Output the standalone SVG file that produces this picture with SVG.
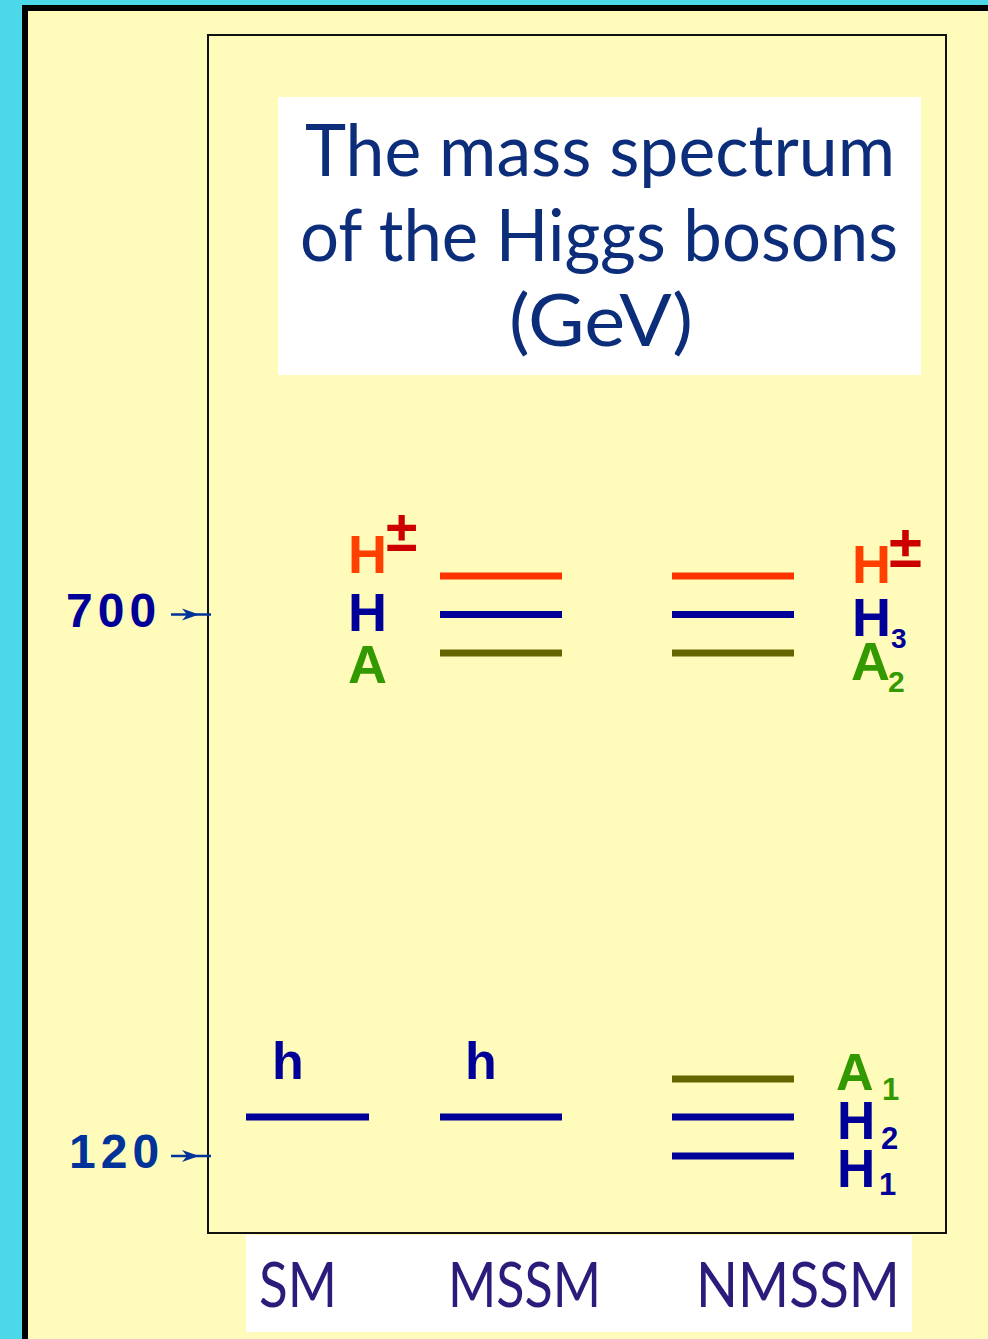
<svg xmlns="http://www.w3.org/2000/svg" width="988" height="1339" viewBox="0 0 988 1339">
<style>
.lvl{stroke-width:7;fill:none}
.or{stroke:#ff3300}
.bl{stroke:#000099}
.ol{stroke:#666600}
.lab{font-family:"Liberation Sans",Arial,sans-serif;font-weight:bold}
.title{font-family:Lato,"Liberation Sans",sans-serif;font-size:71px;fill:#0c2d7a}
.model{font-family:Lato,"Liberation Sans",sans-serif;font-size:61px;fill:#2b1b7b}
.axis{font-family:"Liberation Sans",Arial,sans-serif;font-weight:bold;font-size:48px;letter-spacing:5px}
.arr{stroke:#003399;stroke-width:2.5;fill:none;marker-mid:url(#ah)}
</style>
<defs>
<marker id="ah" markerUnits="userSpaceOnUse" viewBox="0 -7 18 14" markerWidth="18" markerHeight="14" refX="17" refY="0" orient="auto">
<path d="M0,-6 L17,0 L0,6 L5,0 z" fill="#003399"/>
</marker>
</defs>
<rect x="0" y="0" width="988" height="1339" fill="#4cd8e8"/>
<rect x="25" y="8" width="1000" height="1400" fill="#fffbbb" stroke="#000" stroke-width="6"/>
<rect id="frame" x="208" y="35" width="738" height="1198" fill="none" stroke="#111" stroke-width="2"/>

<g id="title">
<rect x="278" y="97" width="643" height="278" fill="#fff"/>
<text class="title" x="305" y="176" textLength="590" lengthAdjust="spacingAndGlyphs">The mass spectrum</text>
<text class="title" x="300" y="261" textLength="598" lengthAdjust="spacingAndGlyphs">of the Higgs bosons</text>
<text class="title" x="509" y="346" textLength="184" lengthAdjust="spacingAndGlyphs">(GeV)</text>
</g>

<g id="axis700">
<text class="axis" x="66" y="627" fill="#000099">700</text>
</g>
<g id="axis120">
<text class="axis" x="69" y="1168" fill="#003399">120</text>
</g>

<g id="connectors">
<path class="arr" d="M171,614.5 L199,614.5 L211,614.5"/>
<path class="arr" d="M171,1156 L199,1156 L211,1156"/>
</g>

<g id="mssm-heavy">
<line class="lvl or" x1="440" y1="576" x2="562" y2="576"/>
<line class="lvl bl" x1="440" y1="614.5" x2="562" y2="614.5"/>
<line class="lvl ol" x1="440" y1="653" x2="562" y2="653"/>
<text class="lab" x="348" y="573" font-size="54" fill="#ff4000">H<tspan x="386" y="551" font-size="57" fill="#cc0000">±</tspan></text>
<text class="lab" x="348" y="631" font-size="54" fill="#000099">H</text>
<text class="lab" x="348" y="683" font-size="54" fill="#339900">A</text>
</g>

<g id="nmssm-heavy">
<line class="lvl or" x1="672" y1="576" x2="794" y2="576"/>
<line class="lvl bl" x1="672" y1="614.5" x2="794" y2="614.5"/>
<line class="lvl ol" x1="672" y1="653" x2="794" y2="653"/>
<text class="lab" x="852" y="583" font-size="54" fill="#ff4000">H<tspan x="889" y="567" font-size="60" fill="#cc0000">±</tspan></text>
<text class="lab" x="852" y="636" font-size="54" fill="#000099">H<tspan x="891" y="648" font-size="28">3</tspan></text>
<text class="lab" x="851" y="680" font-size="54" fill="#339900">A<tspan x="888" y="692" font-size="30">2</tspan></text>
</g>

<g id="sm-light">
<line class="lvl bl" x1="246" y1="1117" x2="369" y2="1117"/>
<text class="lab" x="272" y="1079" font-size="52" fill="#000099">h</text>
</g>

<g id="mssm-light">
<line class="lvl bl" x1="440" y1="1117" x2="562" y2="1117"/>
<text class="lab" x="465" y="1079" font-size="52" fill="#000099">h</text>
</g>

<g id="nmssm-light">
<line class="lvl ol" x1="672" y1="1079" x2="794" y2="1079"/>
<line class="lvl bl" x1="672" y1="1117" x2="794" y2="1117"/>
<line class="lvl bl" x1="672" y1="1156" x2="794" y2="1156"/>
<text class="lab" x="836" y="1090" font-size="52" fill="#339900">A<tspan x="882" y="1100" font-size="31">1</tspan></text>
<text class="lab" x="837" y="1139" font-size="53" fill="#000099">H<tspan x="881" y="1149" font-size="31">2</tspan></text>
<text class="lab" x="837" y="1187" font-size="53" fill="#000099">H<tspan x="879" y="1195" font-size="31">1</tspan></text>
</g>

<g id="models">
<rect x="246" y="1235" width="666" height="97" fill="#fff"/>
<text class="model" x="259" y="1307" textLength="78" lengthAdjust="spacingAndGlyphs">SM</text>
<text class="model" x="448" y="1307" textLength="153" lengthAdjust="spacingAndGlyphs">MSSM</text>
<text class="model" x="696" y="1307" textLength="204" lengthAdjust="spacingAndGlyphs">NMSSM</text>
</g>
</svg>
